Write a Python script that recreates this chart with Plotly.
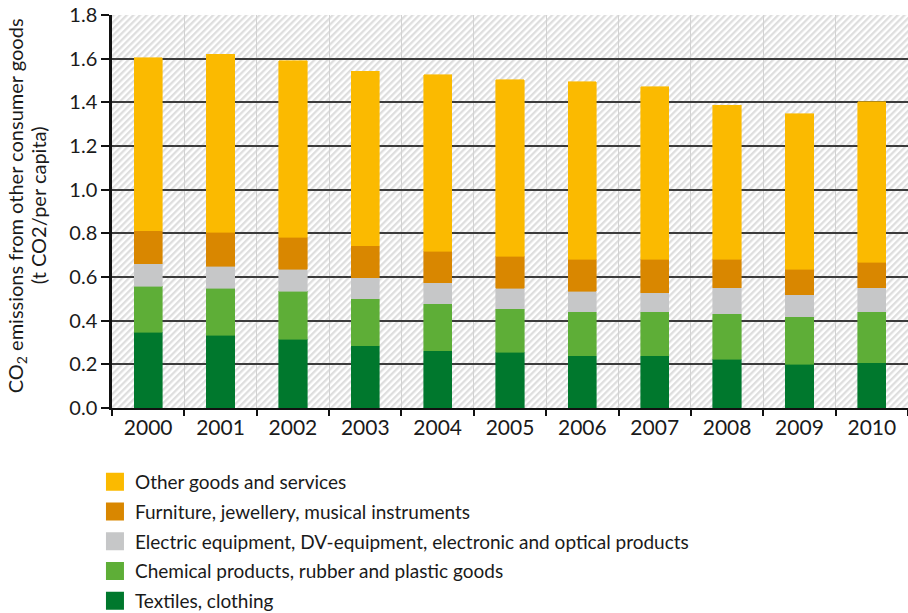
import base64
import plotly.graph_objects as go

years = ["2000", "2001", "2002", "2003", "2004", "2005", "2006", "2007", "2008", "2009", "2010"]

textiles = [0.347, 0.333, 0.315, 0.286, 0.262, 0.255, 0.239, 0.239, 0.223, 0.200, 0.208]
chemical = [0.210, 0.215, 0.219, 0.215, 0.216, 0.200, 0.201, 0.201, 0.209, 0.217, 0.232]
electric = [0.103, 0.102, 0.101, 0.095, 0.096, 0.093, 0.094, 0.088, 0.118, 0.101, 0.110]
furniture = [0.153, 0.154, 0.146, 0.147, 0.145, 0.148, 0.147, 0.153, 0.131, 0.117, 0.117]
other = [0.792, 0.816, 0.809, 0.800, 0.807, 0.807, 0.814, 0.790, 0.706, 0.712, 0.736]

series_names = [
    "Textiles, clothing",
    "Chemical products, rubber and plastic goods",
    "Electric equipment, DV-equipment, electronic and optical products",
    "Furniture, jewellery, musical instruments",
    "Other goods and services",
]
series_values = [textiles, chemical, electric, furniture, other]
series_colors = ["#00782d", "#5eae37", "#c6c7c8", "#d98700", "#fbba00"]

y_ticks = [0.0, 0.2, 0.4, 0.6, 0.8, 1.0, 1.2, 1.4, 1.6, 1.8]
y_title_lines = ["CO<sub>2</sub> emissions from other consumer goods", "(t CO2/per capita)"]

FONT = "Lato, 'Noto Sans', sans-serif"
TXT = "#1a1a1a"

fig = go.Figure()

for name, vals, col in zip(series_names, series_values, series_colors):
    fig.add_trace(go.Bar(
        x=years, y=vals, name=name, marker=dict(color=col, line=dict(width=0.6, color=col)),
        showlegend=False, legendgroup=name,
    ))

# legend proxies (larger square swatches), top entry first
for name, col in reversed(list(zip(series_names, series_colors))):
    fig.add_trace(go.Scatter(
        x=[None], y=[None], mode="markers", name=name, legendgroup=name,
        marker=dict(symbol="square", size=16, color=col, line=dict(width=2, color=col)),
        showlegend=True,
    ))

# hatched plot background
svg = ("<svg xmlns='http://www.w3.org/2000/svg' width='796' height='394' viewBox='0 0 796 394' "
       "preserveAspectRatio='none'><defs><pattern id='h' width='4.7' height='4.7' "
       "patternUnits='userSpaceOnUse' patternTransform='rotate(45)'>"
       "<rect width='2.3' height='4.7' fill='#dedede'/></pattern></defs>"
       "<rect width='796' height='394' fill='#ffffff'/>"
       "<rect width='796' height='394' fill='url(#h)'/></svg>")
src = "data:image/svg+xml;base64," + base64.b64encode(svg.encode()).decode()

# y-axis title as two rotated lines (tighter line spacing than a <br> title)
annotations = [
    dict(text=y_title_lines[0], xref="paper", yref="paper", x=-0.1198, y=0.515,
         xanchor="center", yanchor="middle", textangle=-90, showarrow=False,
         font=dict(family=FONT, size=20, color=TXT)),
    dict(text=y_title_lines[1], xref="paper", yref="paper", x=-0.0934, y=0.515,
         xanchor="center", yanchor="middle", textangle=-90, showarrow=False,
         font=dict(family=FONT, size=20, color=TXT)),
]

fig.update_layout(
    width=908, height=613,
    margin=dict(l=112.3, r=0, t=15, b=204.5, pad=0, autoexpand=False),
    paper_bgcolor="white", plot_bgcolor="white",
    barmode="stack", bargap=0.61,
    font=dict(family=FONT, size=19, color=TXT),
    images=[dict(source=src, xref="paper", yref="paper", x=0, y=1, sizex=1, sizey=1,
                 xanchor="left", yanchor="top", sizing="stretch", layer="below")],
    annotations=annotations,
    legend=dict(x=-0.0214, y=-0.14, xanchor="left", yanchor="top", orientation="v",
                font=dict(family=FONT, size=19, color=TXT), itemwidth=30,
                bgcolor="rgba(0,0,0,0)", tracegroupgap=2),
    xaxis=dict(
        type="category", tickson="boundaries", showgrid=True, gridcolor="#d2d2d2", gridwidth=1.2,
        showline=True, linecolor="#111111", linewidth=2.2, automargin=False,
        ticks="outside", ticklen=6, tickwidth=2, tickcolor="#111111",
        tickfont=dict(family=FONT, size=21, color=TXT), fixedrange=True,
    ),
    yaxis=dict(
        range=[0, 1.8], tickvals=y_ticks, ticktext=[f"{v:.1f}" for v in y_ticks],
        showgrid=True, gridcolor="#3c3c3c", gridwidth=1.5, zeroline=False,
        showline=True, linecolor="#111111", linewidth=2.5, automargin=False,
        ticks="outside", ticklen=8, tickwidth=2, tickcolor="#111111",
        ticklabeloverflow="allow",
        tickfont=dict(family=FONT, size=20, color=TXT),
        fixedrange=True,
    ),
)

# remove the default 8px page margin so the 908x613 figure fills the window exactly
fig.write_html("out.html", config={"displayModeBar": False},
               post_script="document.body.style.margin='0px';")
